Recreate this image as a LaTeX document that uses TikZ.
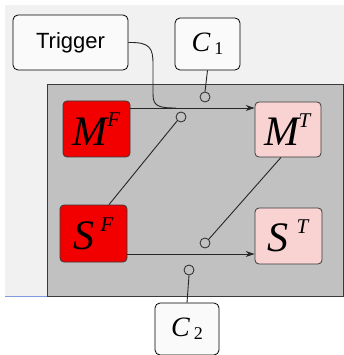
\documentclass[tikz,border=0pt]{standalone}
\usepackage{fontspec}
\setmainfont{Liberation Serif}
\newfontfamily\trigfont{Liberation Sans}
\usetikzlibrary{arrows.meta}
\definecolor{bgpage}{HTML}{F1F1F1}
\definecolor{bluel}{HTML}{7F9BE0}
\definecolor{panel}{HTML}{C1C1C2}
\definecolor{frame}{HTML}{3A3A3A}
\definecolor{redbox}{HTML}{F20000}
\definecolor{pinkbox}{HTML}{F9D2D2}
\definecolor{labbox}{HTML}{FAFAFA}
\newcommand\supx[3]{\textit{#1}\hspace{#3}\raisebox{0.95ex}{\fontsize{21}{21}\selectfont\textit{#2}}}
\newcommand\subx[2]{\textit{#1}\hspace{4pt}\raisebox{-0.2ex}{\fontsize{18}{18}\selectfont #2}}
\tikzset{
  lab/.style={draw=black, fill=labbox, rounded corners=5pt, line width=0.8pt, inner sep=0pt},
  stbox/.style={draw=frame, rounded corners=4pt, line width=0.8pt, inner sep=0pt, font=\fontsize{42}{42}\selectfont},
  fbox/.style={stbox, fill=redbox},
  tbox/.style={stbox, fill=pinkbox},
  conn/.style={line width=0.9pt, draw=black!85},
  arr/.style={conn, -{Stealth[length=9pt,width=6pt]}},
  ring/.style={circle, draw=black!85, line width=0.8pt, fill=panel, minimum size=10pt, inner sep=0pt},
}
\begin{document}
\begin{tikzpicture}[x=1pt,y=-1pt]
\useasboundingbox (0,0) rectangle (344,355);
\fill[white] (0,0) rectangle (344,355);
\fill[bgpage] (5,5) rectangle (344,296);
\draw[bluel, line width=1pt] (5,296) -- (344,296);
\draw[frame, fill=panel, line width=1pt] (47,85) rectangle (343,296);

\node[lab, minimum width=115pt, minimum height=55pt, font=\trigfont\fontsize{22}{22}\selectfont] (trig) at (70.5,42.5) {Trigger};
\node[lab, minimum width=65pt, minimum height=52pt, font=\fontsize{28}{28}\selectfont] (c1) at (207.5,44) {\subx{C}{1}};
\node[lab, minimum width=64pt, minimum height=52pt, font=\fontsize{28}{28}\selectfont] (c2) at (187,329) {\subx{C}{2}};

\node[fbox, minimum width=67pt, minimum height=56pt] (mf) at (96.5,129) {\supx{M}{F}{-2pt}};
\node[tbox, minimum width=66pt, minimum height=55pt] (mt) at (288,129.5) {\supx{M}{T}{-3pt}};
\node[fbox, minimum width=67pt, minimum height=57pt] (sf) at (93.5,233.5) {\supx{S}{F}{6pt}};
\node[tbox, minimum width=67pt, minimum height=56pt] (st) at (288.5,236) {\supx{S}{T}{8pt}};

\node[ring] (r1) at (205,97) {};
\node[ring] (r2) at (181,117) {};
\node[ring] (r3) at (205,243) {};
\node[ring] (r4) at (189,270) {};

\draw[arr] (mf.east |- 0,108) -- (mt.west |- 0,108);
\draw[arr] (sf.east |- 0,254) -- (st.west |- 0,254);
\draw[conn] (trig.east) .. controls (150,42) and (153,48) .. (153,64) -- (153,94)
  .. controls (153,106) and (158,108) .. (176,108);
\draw[conn] (c1.south) -- (r1.north);
\draw[conn] (c2.north) -- (r4.south);
\draw[conn] (sf.north -| 109,0) -- (r2.south west);
\draw[conn] (mt.south -| 281,0) -- (r3.north east);
\end{tikzpicture}
\end{document}
